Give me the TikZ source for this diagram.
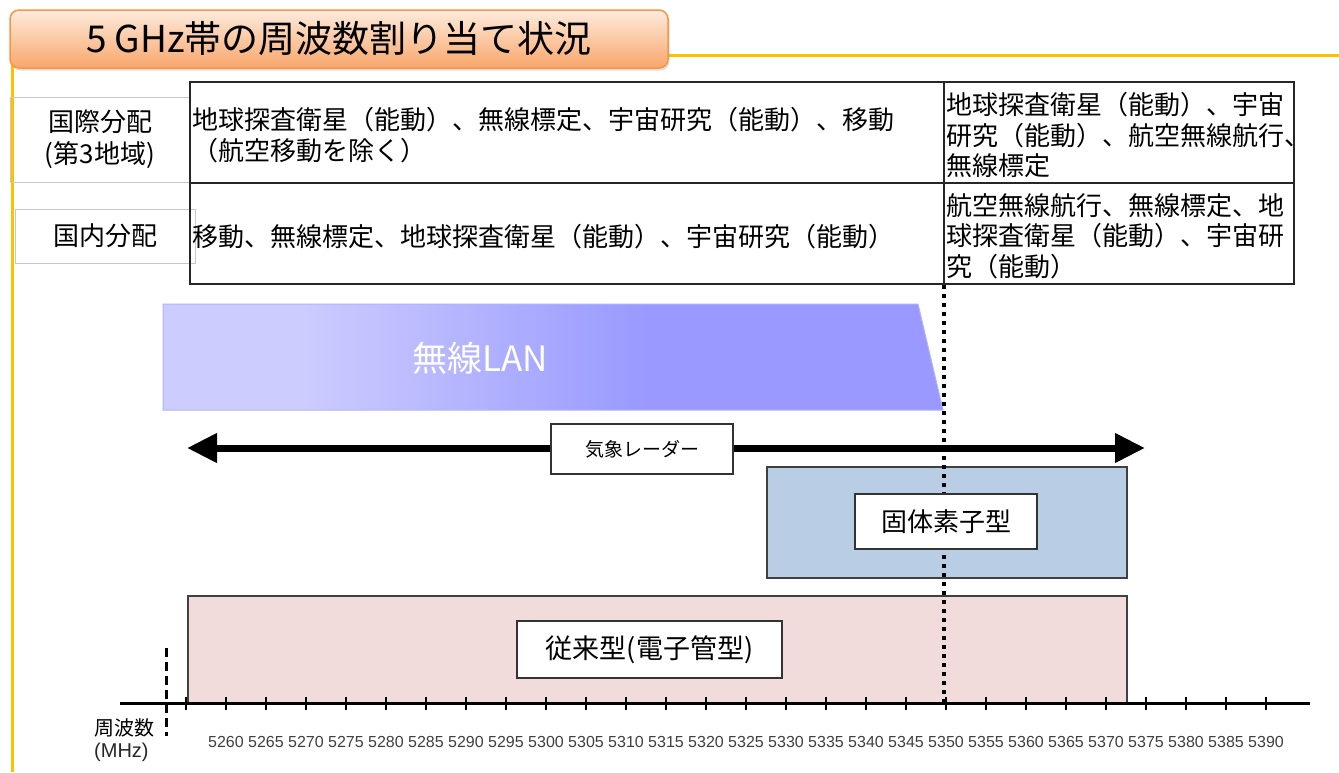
\documentclass[tikz,border=0pt]{standalone}
\usepackage{fontspec}
\setmainfont{Noto Sans CJK JP}
\newfontfamily\axisfnt{Liberation Sans}
\usetikzlibrary{arrows.meta,shadows}

\definecolor{gold}{HTML}{FFC000}
\definecolor{titleTop}{HTML}{FDEBDD}
\definecolor{titleBot}{HTML}{F9A66A}
\definecolor{titleLine}{HTML}{F79646}
\definecolor{lanA}{HTML}{CCCCFF}
\definecolor{lanB}{HTML}{9999FF}
\definecolor{solidBlue}{HTML}{B9CDE5}
\definecolor{tubePink}{HTML}{F2DCDB}
\definecolor{axisText}{HTML}{404040}
\definecolor{lblGray}{HTML}{C8C8C8}

\pgfdeclarehorizontalshading{lanshade}{100bp}{color(0bp)=(lanA); color(34bp)=(lanA); color(56bp)=(lanB); color(100bp)=(lanB)}

\newcommand\ttlfnt{\fontsize{37pt}{42pt}\selectfont}
\newcommand\tabfnt{\fontsize{26pt}{30.5pt}\selectfont}
\newcommand\lblfnt{\fontsize{26pt}{32pt}\selectfont}
\newcommand\lanfnt{\fontsize{35pt}{40pt}\selectfont}
\newcommand\boxfnt{\fontsize{26pt}{30pt}\selectfont}
\newcommand\tubefnt{\fontsize{27pt}{30pt}\selectfont}
\newcommand\radfnt{\fontsize{19pt}{22pt}\selectfont}
\newcommand\axfnt{\axisfnt\fontsize{16pt}{18pt}\selectfont}
\newcommand\axttl{\fontsize{20pt}{22pt}\selectfont}
\newcommand\axmhz{\axisfnt\fontsize{20pt}{22pt}\selectfont}

\tikzset{
  titlebox/.style={draw=titleLine, line width=1.5pt, rounded corners=9pt,
    top color=titleTop, bottom color=titleBot, inner sep=0pt,
    drop shadow={opacity=0.25, shadow xshift=1.5pt, shadow yshift=-2.5pt},
    font=\ttlfnt},
  goldline/.style={draw=gold, line width=3pt},
  labelbox/.style={draw=lblGray, line width=1pt, inner sep=0pt, align=center, font=\lblfnt},
  tableline/.style={draw=black!85, line width=2.2pt},
  cell/.style={anchor=west, align=left, inner sep=0pt, font=\tabfnt},
  bandbox/.style={draw=black!75, line width=1.5pt, inner sep=0pt, anchor=north west},
  whitebox/.style={draw=black!80, line width=1.5pt, fill=white, inner sep=0pt},
  dotline/.style={draw=black, line width=4pt, dash pattern=on 4pt off 5pt},
  radar/.style={draw=black, line width=7pt,
    {Triangle[length=30pt,width=28pt]}-{Triangle[length=30pt,width=28pt]}},
  axisline/.style={draw=black, line width=3pt},
  tickmark/.style={draw=black, line width=2.5pt},
  axislbl/.style={font=\axfnt, text=axisText, inner sep=0pt},
  leftdash/.style={draw=black, line width=3pt, dash pattern=on 9pt off 5pt}
}

\begin{document}
\begin{tikzpicture}[x=1pt,y=-1pt]
\useasboundingbox (0,0) rectangle (1339,772);
\fill[white] (0,0) rectangle (1339,772);

% gold frame lines
\coordinate (gvTop) at (12,60);
\coordinate (gvBot) at (12,772);
\coordinate (ghL) at (600,55);
\coordinate (ghR) at (1339,55);
\draw[goldline] (gvTop) -- (gvBot);
\draw[goldline] (ghL) -- (ghR);

% title
\node[titlebox, minimum width=658pt, minimum height=58pt] (title) at (339,39) {5 GHz帯の周波数割り当て状況};

% row labels
\node[labelbox, minimum width=180pt, minimum height=85pt] (intl) at (100,139.5) {国際分配\\(第3地域)};
\node[labelbox, minimum width=180pt, minimum height=54pt] (dom) at (105,236) {国内分配};

% table
\draw[tableline] (190,82) rectangle (1294,284);
\draw[tableline] (190,183) -- (1294,183);
\draw[tableline] (944,82) -- (944,284);

\node[cell] (c11) at (192,135) {地球探査衛星（能動）、無線標定、宇宙研究（能動）、移動\\（航空移動を除く）};
\node[cell] (c12) at (946,135) {地球探査衛星（能動）、宇宙\\研究（能動）、航空無線航行、\\無線標定};
\node[cell] (c21) at (192,237) {移動、無線標定、地球探査衛星（能動）、宇宙研究（能動）};
\node[cell] (c22) at (946,236) {航空無線航行、無線標定、地\\球探査衛星（能動）、宇宙研\\究（能動）};

% wireless LAN band
\shadedraw[shading=lanshade, draw=lanB!75, line width=1pt] (163,304) -- (918,304) -- (943,410) -- (163,410) -- cycle;
\node[font=\lanfnt, text=white, inner sep=0pt] (lan) at (480,358) {無線LAN};

% bands
\node[bandbox, fill=tubePink, minimum width=939pt, minimum height=108pt] (tube) at (187,595) {};
\node[bandbox, fill=solidBlue, minimum width=360pt, minimum height=111pt] (solid) at (766,466) {};

% dotted 5350 MHz line
\coordinate (dTop) at (944,285);
\coordinate (dBot) at (944,703);
\draw[dotline] (dTop) -- (dBot);

% weather radar
\coordinate (rL) at (187,448);
\coordinate (rR) at (1145,448);
\draw[radar] (rL) -- (rR);
\node[whitebox, minimum width=182pt, minimum height=50pt, font=\radfnt] (radarlbl) at (642,449) {気象レーダー};

\node[whitebox, minimum width=182pt, minimum height=55pt, font=\boxfnt] (solidlbl) at (946,521.5) {固体素子型};
\node[whitebox, minimum width=265pt, minimum height=57pt, font=\tubefnt] (tubelbl) at (649.5,649.5) {従来型(電子管型)};

% axis
\coordinate (axL) at (120,703);
\coordinate (axR) at (1310,703);
\draw[axisline] (axL) -- (axR);
\foreach \k in {0,...,27} {
  \pgfmathsetmacro\tx{186+40*\k}
  \draw[tickmark] (\tx,697) -- (\tx,710);
}
\foreach \f in {5260,5265,...,5390} {
  \pgfmathsetmacro\lx{226+8*(\f-5260)}
  \node[axislbl] (lbl\f) at (\lx,742) {\f};
}

% left axis marker
\coordinate (ldTop) at (166,648);
\coordinate (ldBot) at (166,736);
\draw[leftdash] (ldTop) -- (ldBot);
\node[anchor=west, inner sep=0pt, font=\axttl] (axname) at (94,728) {周波数};
\node[anchor=west, inner sep=0pt, font=\axmhz, text=black!85] (axunit) at (94,752) {(MHz)};
\end{tikzpicture}
\end{document}
